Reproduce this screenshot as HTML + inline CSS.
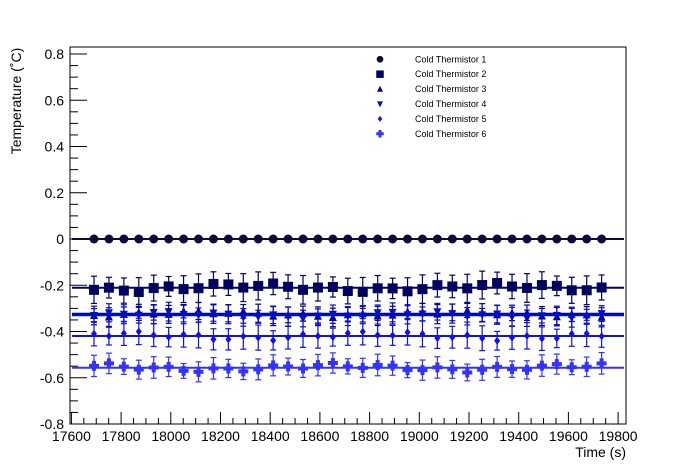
<!DOCTYPE html>
<html><head><meta charset="utf-8"><style>
body{margin:0;background:#fff}
svg{display:block;font-family:"Liberation Sans",Arial,sans-serif}
</style></head><body>
<svg id="s" width="696" height="472" viewBox="0 0 696 472" xmlns="http://www.w3.org/2000/svg">
<rect width="696" height="472" fill="#fff"/>
<g id="ax" stroke="#000" stroke-width="1" fill="none"></g>
<g id="lines"></g>
<g id="pts"></g>
<g id="txt" font-size="14" fill="#000"></g>
<g id="leg" font-size="9" fill="#000"></g>
</svg>
<script>
var NS="http://www.w3.org/2000/svg";
function el(p,t,a,txt){var e=document.createElementNS(NS,t);for(var k in a)e.setAttribute(k,a[k]);if(txt!==undefined)e.textContent=txt;document.getElementById(p).appendChild(e);return e;}
var L=70,R=626,T=47,B=424;
function X(t){return 71.4+(t-17600)*0.2485;}
function Y(v){return 239-v*231.25;}
el('ax','rect',{x:L,y:T,width:R-L,height:B-T});
for(var i=-16;i<=16;i++){var v=i*0.05;var y=Y(v);if(y<T||y>B)continue;var len=(i%4==0)?17:8;el('ax','line',{x1:L,y1:y,x2:L+len,y2:y});
 if(i%4==0){el('txt','text',{x:64,y:y+5,'text-anchor':'end'},(Math.abs(v)<1e-9?'0':(Math.round(v*10)/10).toString()));}}
for(var t=17600;t<=19800;t+=50){var x=X(t);if(x>R)continue;var len=(t%200==0)?12:6;el('ax','line',{x1:x,y1:B,x2:x,y2:B-len});
 if(t%200==0)el('txt','text',{x:x,y:441,'text-anchor':'middle'},t);}
el('txt','text',{x:626,y:457,'text-anchor':'end'},'Time (s)');
el('txt','text',{x:0,y:0,'text-anchor':'middle',transform:'translate(21,101) rotate(-90)'},'Temperature (\u02daC)');
var S=[
 {y:239,c:'#0a0a3c',m:'circle',e:0,j:0},
 {y:287.7,c:'#000060',m:'square',e:12,j:4},
 {y:314,c:'#0000a0',m:'tri',e:8,j:3},
 {y:315,c:'#0010c0',m:'itri',e:8,j:3},
 {y:336,c:'#1010e8',m:'dia',e:11,j:4},
 {y:367.7,c:'#3333ff',m:'plus',e:9,j:4}];
S.forEach(function(s,k){el('lines','line',{x1:72,y1:s.y,x2:624,y2:s.y,stroke:s.c,'stroke-width':k==2||k==3?2.5:2});});
function mk(s,x,y,g,sc){var c=s.c;var tr='translate('+x+','+y+') scale('+sc+')';
 if(s.m=='circle')el(g,'circle',{cx:0,cy:0,r:4.5,fill:c,transform:tr});
 else if(s.m=='square')el(g,'rect',{x:-5,y:-5,width:10,height:10,fill:c,transform:tr});
 else if(s.m=='tri')el(g,'polygon',{points:'-4,3.5 4,3.5 0,-4.5',fill:c,transform:tr});
 else if(s.m=='itri')el(g,'polygon',{points:'-4,-3.5 4,-3.5 0,4.5',fill:c,transform:tr});
 else if(s.m=='dia')el(g,'polygon',{points:'-3,0 0,-4 3,0 0,4',fill:c,transform:tr});
 else el(g,'path',{d:'M-5 -2h3v-3h4v3h3v4h-3v3h-4v-3h-3z',fill:c,transform:tr});}
S.forEach(function(s,k){for(var i=0;i<35;i++){var x=94+i*14.93;
 var dy=s.j*(Math.sin(i*1.7+k*3.1)*0.6+Math.sin(i*0.37+k)*0.6);var y=s.y+dy;
 var e=s.e*(0.8+0.4*Math.abs(Math.sin(i*2.3+k)));
 if(s.e){el('pts','line',{x1:x,y1:y-e,x2:x,y2:y+e,stroke:s.c,'stroke-width':1.2});
  el('pts','line',{x1:x-3,y1:y-e,x2:x+3,y2:y-e,stroke:s.c,'stroke-width':1.2});
  el('pts','line',{x1:x-3,y1:y+e,x2:x+3,y2:y+e,stroke:s.c,'stroke-width':1.2});}
 mk(s,x,y,'pts',1);}});
S.forEach(function(s,k){var y=59.3+k*14.9;mk(s,380,y,'leg',0.75);el('leg','text',{x:415,y:y+3},'Cold Thermistor '+(k+1));});
</script>
</body></html>
